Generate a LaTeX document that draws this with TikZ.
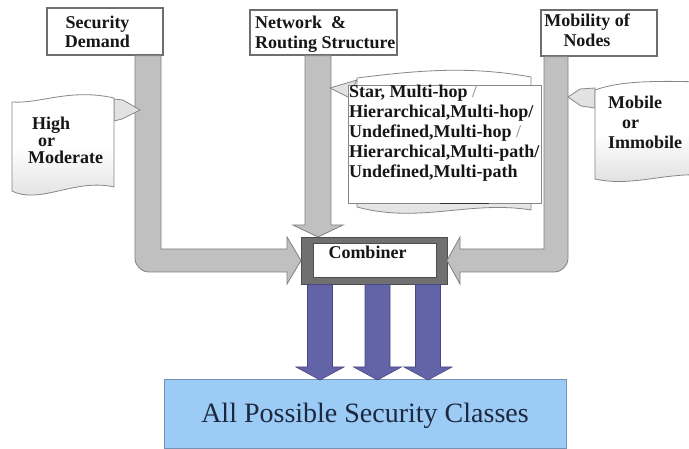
\documentclass[tikz,border=0pt]{standalone}
\usepackage{fontspec}
\setmainfont{Liberation Serif}
\usetikzlibrary{calc}

\definecolor{shaftfill}{RGB}{192,192,192}
\definecolor{shaftline}{RGB}{128,128,128}
\definecolor{boxline}{RGB}{110,110,110}
\definecolor{combframe}{RGB}{112,112,112}
\definecolor{combedge}{RGB}{78,78,78}
\definecolor{outblue}{RGB}{99,99,168}
\definecolor{outblueline}{RGB}{72,72,130}
\definecolor{classfill}{RGB}{156,203,246}
\definecolor{classline}{RGB}{118,146,178}
\definecolor{classtext}{RGB}{28,40,62}
\definecolor{docline}{RGB}{135,135,135}
\definecolor{tabfill}{RGB}{226,226,226}
\definecolor{inktext}{RGB}{22,22,22}
\definecolor{fadeslash}{RGB}{165,165,165}

% rows of a text block, first row on the node's baseline
\newcommand\txtlines[2]{\begin{tabular}[t]{@{}#1@{}}#2\end{tabular}}

\begin{document}
\begin{tikzpicture}[x=1pt,y=-1pt,
  labelbox/.style={draw=boxline,line width=1.4pt,fill=white,inner sep=0pt,outer sep=0pt},
  lbl/.style={inner sep=0pt,text=inktext,font=\bfseries\fontsize{18}{19.5}\selectfont},
  bigarrow/.style={fill=shaftfill,draw=shaftline,line width=0.8pt,line join=miter},
  outarrow/.style={fill=outblue,draw=outblueline,line width=0.6pt},
  docpage/.style={draw=docline,line width=0.8pt,top color=white,bottom color=black!13,middle color=white},
  doctab/.style={draw=docline,line width=0.8pt,fill=tabfill},
]
\useasboundingbox (0,0) rectangle (689,449);
\fill[white] (0,0) rectangle (689,449);

% input boxes
\node[labelbox,minimum width=116pt,minimum height=47pt] (secbox) at (105,31.5) {};
\node[labelbox,minimum width=147pt,minimum height=45pt] (netbox) at (323.5,32.5) {};
\node[labelbox,minimum width=116pt,minimum height=46pt] (mobbox) at (599,33) {};
\node[lbl,anchor=base] (sectext) at (97.5,28.3) {\txtlines{c}{Security\\Demand}};
\node[lbl,anchor=base west] (nettext) at (255,29) {\txtlines{l}{Network \ \&\\Routing Structure}};
\node[lbl,anchor=base] (mobtext) at (587,26.7) {\txtlines{c}{Mobility of\\Nodes}};

% combiner
\node[fill=combframe,draw=combedge,line width=0.8pt,minimum width=146pt,minimum height=47pt,inner sep=0pt,outer sep=0pt] (comb) at (374,260.5) {};
\fill[white,draw=combedge,line width=0.4pt] ([xshift=12pt,yshift=-6pt]comb.north west) rectangle ([xshift=-11pt,yshift=7pt]comb.south east);
\node[lbl,anchor=base] (combtext) at (367.5,258.3) {Combiner};

% output box
\node[fill=classfill,draw=classline,line width=0.8pt,minimum width=402pt,minimum height=69pt,inner sep=0pt,outer sep=0pt] (classes) at (365,413.5) {};
\node[inner sep=0pt,anchor=base,text=classtext,font=\fontsize{28}{30}\selectfont] (classtext) at (365,422) {All Possible Security Classes};

% block arrows from the three inputs into the combiner
\draw[bigarrow] let \p1=(secbox.south east), \p2=(comb.west) in
  ({\x1-28pt},{\y1-0.7pt}) -- ({\x1-28pt},{\y2-11.5pt+14pt})
  arc[start angle=180,end angle=270,radius=14pt]
  -- ({\x2-14pt},{\y2-11.5pt}) -- ({\x2-14pt},{\y2-23.5pt}) -- (\x2,\y2)
  -- ({\x2-14pt},{\y2+23.5pt}) -- ({\x2-14pt},{\y2+11.5pt})
  -- ({\x1-2pt},{\y2+11.5pt}) -- ({\x1-2pt},{\y1-0.7pt}) -- cycle;
\draw[bigarrow] let \p1=(mobbox.south west), \p2=(comb.east) in
  ({\x1+27pt},{\y1-0.7pt}) -- ({\x1+27pt},{\y2-11.5pt+14pt})
  arc[start angle=0,end angle=-90,radius=14pt]
  -- ({\x2+13pt},{\y2-11.5pt}) -- ({\x2+13pt},{\y2-23.5pt}) -- (\x2,\y2)
  -- ({\x2+13pt},{\y2+23.5pt}) -- ({\x2+13pt},{\y2+11.5pt})
  -- ({\x1+3pt},{\y2+11.5pt}) -- ({\x1+3pt},{\y1-0.7pt}) -- cycle;
\draw[bigarrow] let \p1=(netbox.south), \p2=(comb.north) in
  ({\x1-18.5pt},{\y1-0.7pt}) -- ({\x1-18.5pt},{\y2+12pt}) -- ({\x1-30.5pt},{\y2+12pt})
  -- ({\x1-5.5pt},\y2) -- ({\x1+19.5pt},{\y2+12pt}) -- ({\x1+7.5pt},{\y2+12pt})
  -- ({\x1+7.5pt},{\y1-0.7pt}) -- cycle;

% three output arrows
\foreach \dx in {-54,3.5,54}{
  \draw[outarrow] let \p1=(comb.south), \p2=(classes.north) in
    ({\x1+(\dx)*1pt-12.5pt},{\y1-0.5pt}) -- ({\x1+(\dx)*1pt-12.5pt},{\y2+12pt})
    -- ({\x1+(\dx)*1pt-24pt},{\y2+12pt}) -- ({\x1+(\dx)*1pt},{\y2-1pt})
    -- ({\x1+(\dx)*1pt+24pt},{\y2+12pt}) -- ({\x1+(\dx)*1pt+12.5pt},{\y2+12pt})
    -- ({\x1+(\dx)*1pt+12.5pt},{\y1-0.5pt}) -- cycle;
}

% value sheet: security demand
\draw[doctab] (114,99) -- (123,100) -- (140,110) -- (122,119) -- (114,121) -- cycle;
\draw[docpage] (12,102) .. controls (40,104) and (70,88) .. (114,98) -- (114,187)
  .. controls (75,178) and (40,205) .. (12,191) -- cycle;
\node[lbl,anchor=base west,font=\bfseries\fontsize{18}{17}\selectfont] (hightext) at (28,129.3)
  {\txtlines{l}{\hspace*{4pt}High\\\hspace*{10pt}or\\Moderate}};

% value sheet: mobility
\draw[doctab] (595,88) -- (580,89) -- (568,97) -- (581,106) -- (595,108) -- cycle;
\draw[docpage] (595,90) .. controls (615,83) and (640,80) .. (700,82) -- (700,175)
  .. controls (665,173) and (630,187) .. (595,179) -- cycle;
\node[lbl,anchor=base west,font=\bfseries\fontsize{18}{20}\selectfont] (mobiletext) at (608,108.3)
  {\txtlines{l}{Mobile\\\hspace*{14pt}or\\Immobile}};

% value sheets: network and routing structures
\draw[docpage] (357,78) .. controls (420,70) and (470,66) .. (531,77) -- (531,210)
  .. controls (470,200) and (420,224) .. (357,207) -- cycle;
\draw[doctab] (357,80) -- (330,88) -- (348,97) -- cycle;
\draw[draw=docline,line width=0.8pt,fill=white] (348,85) rectangle (541,203);
\draw[black!80,line width=1.2pt] (440,203.5) -- (489,203.5);
\node[lbl,anchor=base west,font=\bfseries\fontsize{18}{20}\selectfont] (structtext) at (349,97.7)
  {\txtlines{l}{Star, Multi-hop {\color{fadeslash}/}\\Hierarchical,Multi-hop/\\Undefined,Multi-hop {\color{fadeslash}/}\\Hierarchical,Multi-path/\\Undefined,Multi-path}};
\end{tikzpicture}
\end{document}
